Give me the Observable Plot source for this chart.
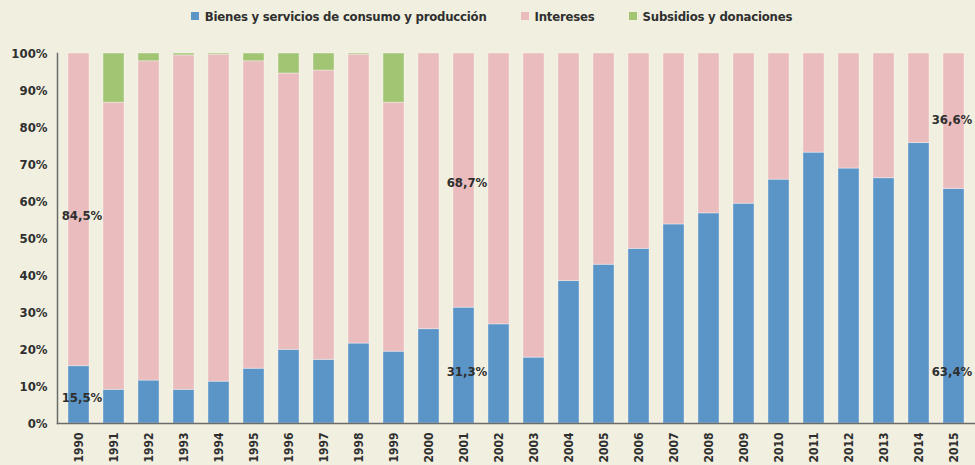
<!DOCTYPE html>
<html>
<head>
<meta charset="utf-8">
<script src="https://cdn.jsdelivr.net/npm/d3@7"></script>
<script src="https://cdn.jsdelivr.net/npm/@observablehq/plot@0.6"></script>
<style>
  html, body { margin: 0; padding: 0; background: #f1efdf; }
  body { width: 975px; height: 465px; overflow: hidden; font-family: "DejaVu Sans Condensed", "Liberation Sans Narrow", sans-serif; }
  #legend { height: 36px; display: flex; justify-content: center; align-items: center; gap: 34px; box-sizing: border-box; padding-bottom: 4px; padding-left: 8px; }
  .item { display: flex; align-items: center; font-size: 13px; font-weight: bold; color: #2f2f2f; white-space: nowrap; letter-spacing: -0.2px; }
  .sw { width: 8px; height: 8px; margin-right: 6px; display: inline-block; }
</style>
</head>
<body>
<div id="legend"></div>
<div id="chart"></div>
<script>
const years = ["1990","1991","1992","1993","1994","1995","1996","1997","1998","1999","2000","2001","2002","2003","2004","2005","2006","2007","2008","2009","2010","2011","2012","2013","2014","2015"];
const seriesNames = ["Bienes y servicios de consumo y producción", "Intereses", "Subsidios y donaciones"];
const bienes    = [15.5, 9.1, 11.6, 9.1, 11.3, 14.8, 19.9, 17.2, 21.6, 19.4, 25.5, 31.3, 26.8, 17.8, 38.5, 42.9, 47.2, 53.8, 56.8, 59.4, 65.9, 73.2, 68.9, 66.3, 75.8, 63.4];
const intereses = [84.5, 77.6, 86.3, 90.4, 88.4, 83.1, 74.7, 78.2, 78.1, 67.3, 74.5, 68.7, 73.2, 82.2, 61.5, 57.1, 52.8, 46.2, 43.2, 40.6, 34.1, 26.8, 31.1, 33.7, 24.2, 36.6];
const subsidios = [0, 13.3, 2.1, 0.5, 0.3, 2.1, 5.4, 4.6, 0.3, 13.3, 0, 0, 0, 0, 0, 0, 0, 0, 0, 0, 0, 0, 0, 0, 0, 0];
const yTicks = [0, 10, 20, 30, 40, 50, 60, 70, 80, 90, 100];
// annotation labels: year, vertical anchor (in % units), text
const labelYears  = ["1990", "1990", "2001", "2001", "2015", "2015"];
const labelValues = [56, 7, 65, 14, 82, 14];
const labelTexts  = ["84,5%", "15,5%", "68,7%", "31,3%", "36,6%", "63,4%"];

const colors = ["#5b95c7", "#eabcbd", "#a2c574"];

const rows = [];
const seriesValues = [bienes, intereses, subsidios];
seriesNames.forEach((s, si) => {
  years.forEach((y, i) => rows.push({year: y, series: s, value: seriesValues[si][i]}));
});
const labels = labelYears.map((y, i) => ({year: y, v: labelValues[i], text: labelTexts[i]}));
const lastYear = years[years.length - 1];

// legend
const legend = document.getElementById("legend");
seriesNames.forEach((s, i) => {
  const it = document.createElement("div");
  it.className = "item";
  it.innerHTML = `<span class="sw" style="background:${colors[i]}"></span>${s}`;
  legend.appendChild(it);
});

const font = '"DejaVu Sans Condensed", "Liberation Sans Narrow", sans-serif';
const chart = Plot.plot({
  width: 975,
  height: 429,
  marginLeft: 57,
  marginRight: 1,
  marginTop: 17,
  marginBottom: 42,
  style: {background: "transparent", fontFamily: font, fontSize: "13px", fontWeight: "bold", color: "#2f2f2f", overflow: "visible"},
  x: {type: "band", domain: years, paddingInner: 0.4, paddingOuter: 0.2, label: null},
  y: {domain: [0, 100], label: null},
  color: {domain: seriesNames, range: colors},
  marks: [
    Plot.barY(rows, Plot.stackY({order: seriesNames}, {x: "year", y: "value", fill: "series", stroke: "#ffffff", strokeOpacity: 0.35, strokeWidth: 1})),
    Plot.axisY({ticks: yTicks, tickFormat: d => d + "%", tickSize: 0, tickPadding: 10, fontSize: 13, fontWeight: "bold", fill: "#2f2f2f", label: null}),
    Plot.axisX({tickRotate: -90, tickSize: 0, tickPadding: 9, fontSize: 12, fontWeight: "bold", fill: "#2f2f2f", label: null}),
    Plot.frame({anchor: "left", stroke: "#6b6b6b", strokeWidth: 1.5}),
    Plot.frame({anchor: "bottom", stroke: "#6b6b6b", strokeWidth: 1.5}),
    Plot.text(labels.filter(d => d.year !== lastYear), {x: "year", y: "v", text: "text", dx: 3, fontSize: 13, fontWeight: "bold", fill: "#2f2f2f"}),
    Plot.text(labels.filter(d => d.year === lastYear), {x: "year", y: "v", text: "text", dx: -2, fontSize: 13, fontWeight: "bold", fill: "#2f2f2f"})
  ]
});
document.getElementById("chart").appendChild(chart);
</script>
</body>
</html>
